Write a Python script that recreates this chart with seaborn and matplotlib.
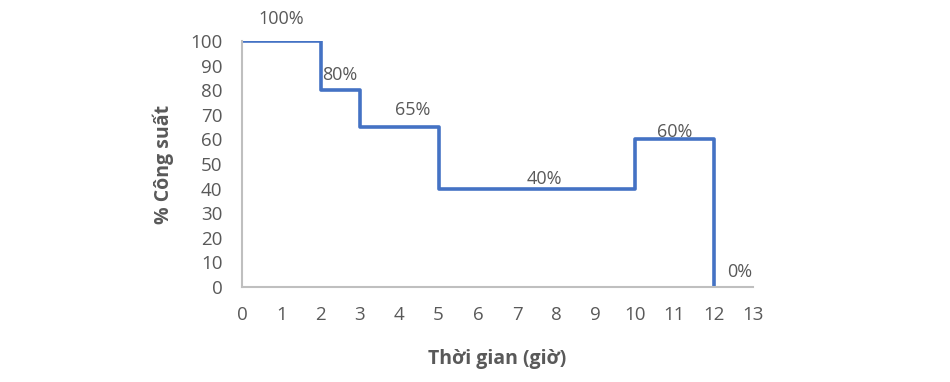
import matplotlib
matplotlib.use("Agg")
import matplotlib.pyplot as plt
import seaborn as sns
import pandas as pd

# step points (power level holds until the next hour mark)
hours = [0, 2, 3, 5, 10, 12]
power = [100, 80, 65, 40, 60, 0]

# data labels and where they sit
label_texts = ["100%", "80%", "65%", "40%", "60%", "0%"]
label_x = [1.0, 2.5, 4.35, 7.7, 11.0, 12.65]
label_y = [109, 86, 72, 44, 63, 6]

sns.set_theme(style="white")
plt.rcParams["font.family"] = ["Open Sans", "DejaVu Sans"]

grey = "#595959"
fig = plt.figure(figsize=(9.5, 3.82), dpi=100)
ax = fig.add_axes([0.2547, 0.2487, 0.5379, 0.644])

df = pd.DataFrame({"hours": hours, "power": power})
sns.lineplot(data=df, x="hours", y="power", drawstyle="steps-post",
             color="#4472C4", linewidth=2.6, ax=ax, sort=False)

for t, x, y in zip(label_texts, label_x, label_y):
    ax.text(x, y, t, ha="center", va="center", fontsize=13, color=grey)

ax.set_xlim(0, 13)
ax.set_ylim(0, 100)
ax.set_xticks(range(0, 14))
ax.set_yticks(range(0, 101, 10))
ax.tick_params(axis="both", length=0, labelsize=13.5, labelcolor=grey)
ax.tick_params(axis="x", pad=14)
ax.tick_params(axis="y", pad=14)

for side in ["top", "right"]:
    ax.spines[side].set_visible(False)
for side in ["left", "bottom"]:
    ax.spines[side].set_color("#BFBFBF")
    ax.spines[side].set_linewidth(1.5)

ax.set_xlabel("Thời gian (giờ)", fontsize=14, fontweight="bold", color=grey, labelpad=18)
ax.set_ylabel("% Công suất", fontsize=14, fontweight="bold", color=grey, labelpad=12)

fig.savefig("out.png", dpi=100)
plt.close(fig)
